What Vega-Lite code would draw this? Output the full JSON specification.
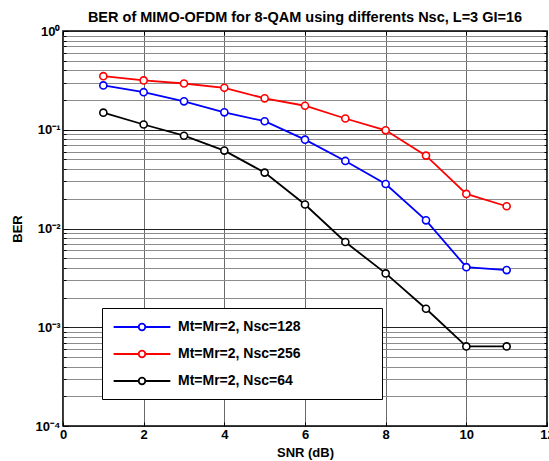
{
  "$schema": "https://vega.github.io/schema/vega-lite/v6.json",
  "autosize": {"type": "none"},
  "padding": {"left": 63, "top": 31, "right": 2, "bottom": 35},
  "width": 484,
  "height": 395,
  "background": "white",
  "config": {
    "font": "Liberation Sans",
    "view": {"stroke": "black", "strokeWidth": 1.6},
    "axis": {"domain": false, "labelFont": "Liberation Sans", "titleFont": "Liberation Sans", "labelFontWeight": "bold", "titleFontWeight": "bold", "labelColor": "black", "titleColor": "black", "tickColor": "black"}
  },
  "title": {"text": "BER of MIMO-OFDM for 8-QAM using differents Nsc, L=3 GI=16", "fontSize": 14.5, "fontWeight": "bold", "font": "Liberation Sans", "color": "black", "offset": 0, "anchor": "middle"},
  "data": {"values": [
    {"snr": 1, "ber": 0.281, "series": "Mt=Mr=2, Nsc=128"},
    {"snr": 2, "ber": 0.240, "series": "Mt=Mr=2, Nsc=128"},
    {"snr": 3, "ber": 0.194, "series": "Mt=Mr=2, Nsc=128"},
    {"snr": 4, "ber": 0.150, "series": "Mt=Mr=2, Nsc=128"},
    {"snr": 5, "ber": 0.122, "series": "Mt=Mr=2, Nsc=128"},
    {"snr": 6, "ber": 0.0794, "series": "Mt=Mr=2, Nsc=128"},
    {"snr": 7, "ber": 0.0483, "series": "Mt=Mr=2, Nsc=128"},
    {"snr": 8, "ber": 0.0282, "series": "Mt=Mr=2, Nsc=128"},
    {"snr": 9, "ber": 0.0121, "series": "Mt=Mr=2, Nsc=128"},
    {"snr": 10, "ber": 0.00406, "series": "Mt=Mr=2, Nsc=128"},
    {"snr": 11, "ber": 0.00379, "series": "Mt=Mr=2, Nsc=128"},
    {"snr": 1, "ber": 0.349, "series": "Mt=Mr=2, Nsc=256"},
    {"snr": 2, "ber": 0.316, "series": "Mt=Mr=2, Nsc=256"},
    {"snr": 3, "ber": 0.294, "series": "Mt=Mr=2, Nsc=256"},
    {"snr": 4, "ber": 0.266, "series": "Mt=Mr=2, Nsc=256"},
    {"snr": 5, "ber": 0.208, "series": "Mt=Mr=2, Nsc=256"},
    {"snr": 6, "ber": 0.175, "series": "Mt=Mr=2, Nsc=256"},
    {"snr": 7, "ber": 0.130, "series": "Mt=Mr=2, Nsc=256"},
    {"snr": 8, "ber": 0.0986, "series": "Mt=Mr=2, Nsc=256"},
    {"snr": 9, "ber": 0.0547, "series": "Mt=Mr=2, Nsc=256"},
    {"snr": 10, "ber": 0.0224, "series": "Mt=Mr=2, Nsc=256"},
    {"snr": 11, "ber": 0.0168, "series": "Mt=Mr=2, Nsc=256"},
    {"snr": 1, "ber": 0.149, "series": "Mt=Mr=2, Nsc=64"},
    {"snr": 2, "ber": 0.113, "series": "Mt=Mr=2, Nsc=64"},
    {"snr": 3, "ber": 0.087, "series": "Mt=Mr=2, Nsc=64"},
    {"snr": 4, "ber": 0.0615, "series": "Mt=Mr=2, Nsc=64"},
    {"snr": 5, "ber": 0.0368, "series": "Mt=Mr=2, Nsc=64"},
    {"snr": 6, "ber": 0.0175, "series": "Mt=Mr=2, Nsc=64"},
    {"snr": 7, "ber": 0.0073, "series": "Mt=Mr=2, Nsc=64"},
    {"snr": 8, "ber": 0.00351, "series": "Mt=Mr=2, Nsc=64"},
    {"snr": 9, "ber": 0.00154, "series": "Mt=Mr=2, Nsc=64"},
    {"snr": 10, "ber": 0.00064, "series": "Mt=Mr=2, Nsc=64"},
    {"snr": 11, "ber": 0.00064, "series": "Mt=Mr=2, Nsc=64"}
  ]},
  "resolve": {"axis": {"x": "independent", "y": "independent"}},
  "layer": [
    {
      "mark": {"type": "line", "strokeWidth": 1.8},
      "encoding": {
        "x": {"field": "snr", "type": "quantitative", "scale": {"domain": [0, 12], "nice": false, "zero": false},
          "axis": {"orient": "bottom", "title": "SNR (dB)", "titleFontSize": 13, "titlePadding": 5, "labelFontSize": 13, "labelPadding": 6, "values": [0, 2, 4, 6, 8, 10, 12], "grid": true, "gridColor": "#444", "gridWidth": 0.8, "tickSize": -4, "labelFlush": false}},
        "y": {"field": "ber", "type": "quantitative", "scale": {"type": "log", "domain": [0.0001, 1], "nice": false},
          "axis": {"orient": "left", "title": "BER", "titleFontSize": 13, "titlePadding": 11,
            "values": [0.0001, 0.0002, 0.0003, 0.0004, 0.0005, 0.0006, 0.0007, 0.0008, 0.0009, 0.001, 0.002, 0.003, 0.004, 0.005, 0.006, 0.007, 0.008, 0.009, 0.01, 0.02, 0.03, 0.04, 0.05, 0.06, 0.07, 0.08, 0.09, 0.1, 0.2, 0.3, 0.4, 0.5, 0.6, 0.7, 0.8, 0.9, 1],
            "labelExpr": "datum.value == 1 ? '10⁰' : datum.value == 0.1 ? '10⁻¹' : datum.value == 0.01 ? '10⁻²' : datum.value == 0.001 ? '10⁻³' : datum.value == 0.0001 ? '10⁻⁴' : ''",
            "labelFontSize": 13, "labelPadding": 8,
            "grid": true, "gridWidth": 1,
            "gridColor": {"condition": {"test": "indexof([1,0.1,0.01,0.001,0.0001], datum.value) >= 0", "value": "#222"}, "value": "#8c8c8c"},
            "tickSize": {"condition": {"test": "indexof([1,0.1,0.01,0.001,0.0001], datum.value) >= 0", "value": -5}, "value": -3}}},
        "color": {"field": "series", "type": "nominal",
          "scale": {"domain": ["Mt=Mr=2, Nsc=128", "Mt=Mr=2, Nsc=256", "Mt=Mr=2, Nsc=64"], "range": ["#0000ff", "#ff0000", "#000000"]},
          "legend": {"orient": "none", "legendX": 39, "legendY": 277, "title": null, "direction": "vertical",
            "fillColor": "white", "strokeColor": "black", "padding": 11, "rowPadding": 12,
            "labelFontSize": 14, "labelFontWeight": "bold", "labelColor": "black", "labelFont": "Liberation Sans", "labelOffset": 28, "labelLimit": 400,
            "labelExpr": "datum.label + '\u00a0\u00a0\u00a0\u00a0\u00a0\u00a0\u00a0\u00a0\u00a0\u00a0\u00a0\u00a0\u00a0\u00a0\u00a0\u00a0\u00a0\u00a0\u200b'",
            "symbolType": "M-4.05,0L-0.471,0M0.471,0L4.05,0M0.471,0C0.471,0.26,0.26,0.471,0,0.471C-0.26,0.471,-0.471,0.26,-0.471,0C-0.471,-0.26,-0.26,-0.471,0,-0.471C0.26,-0.471,0.471,-0.26,0.471,0Z",
            "symbolSize": 196, "symbolOffset": 21, "symbolStrokeWidth": 1.8, "symbolFillColor": "white"}}
      }
    },
    {
      "mark": {"type": "point", "filled": false, "fill": "white", "fillOpacity": 1, "opacity": 1, "size": 50, "strokeWidth": 1.6},
      "encoding": {
        "x": {"field": "snr", "type": "quantitative",
          "axis": {"orient": "top", "title": null, "labels": false, "grid": false, "values": [0, 2, 4, 6, 8, 10, 12], "tickSize": -4}},
        "y": {"field": "ber", "type": "quantitative",
          "axis": {"orient": "right", "title": null, "labels": false, "grid": false,
            "values": [0.0001, 0.0002, 0.0003, 0.0004, 0.0005, 0.0006, 0.0007, 0.0008, 0.0009, 0.001, 0.002, 0.003, 0.004, 0.005, 0.006, 0.007, 0.008, 0.009, 0.01, 0.02, 0.03, 0.04, 0.05, 0.06, 0.07, 0.08, 0.09, 0.1, 0.2, 0.3, 0.4, 0.5, 0.6, 0.7, 0.8, 0.9, 1],
            "tickSize": {"condition": {"test": "indexof([1,0.1,0.01,0.001,0.0001], datum.value) >= 0", "value": -5}, "value": -3}}},
        "color": {"field": "series", "type": "nominal", "legend": null}
      }
    }
  ]
}
